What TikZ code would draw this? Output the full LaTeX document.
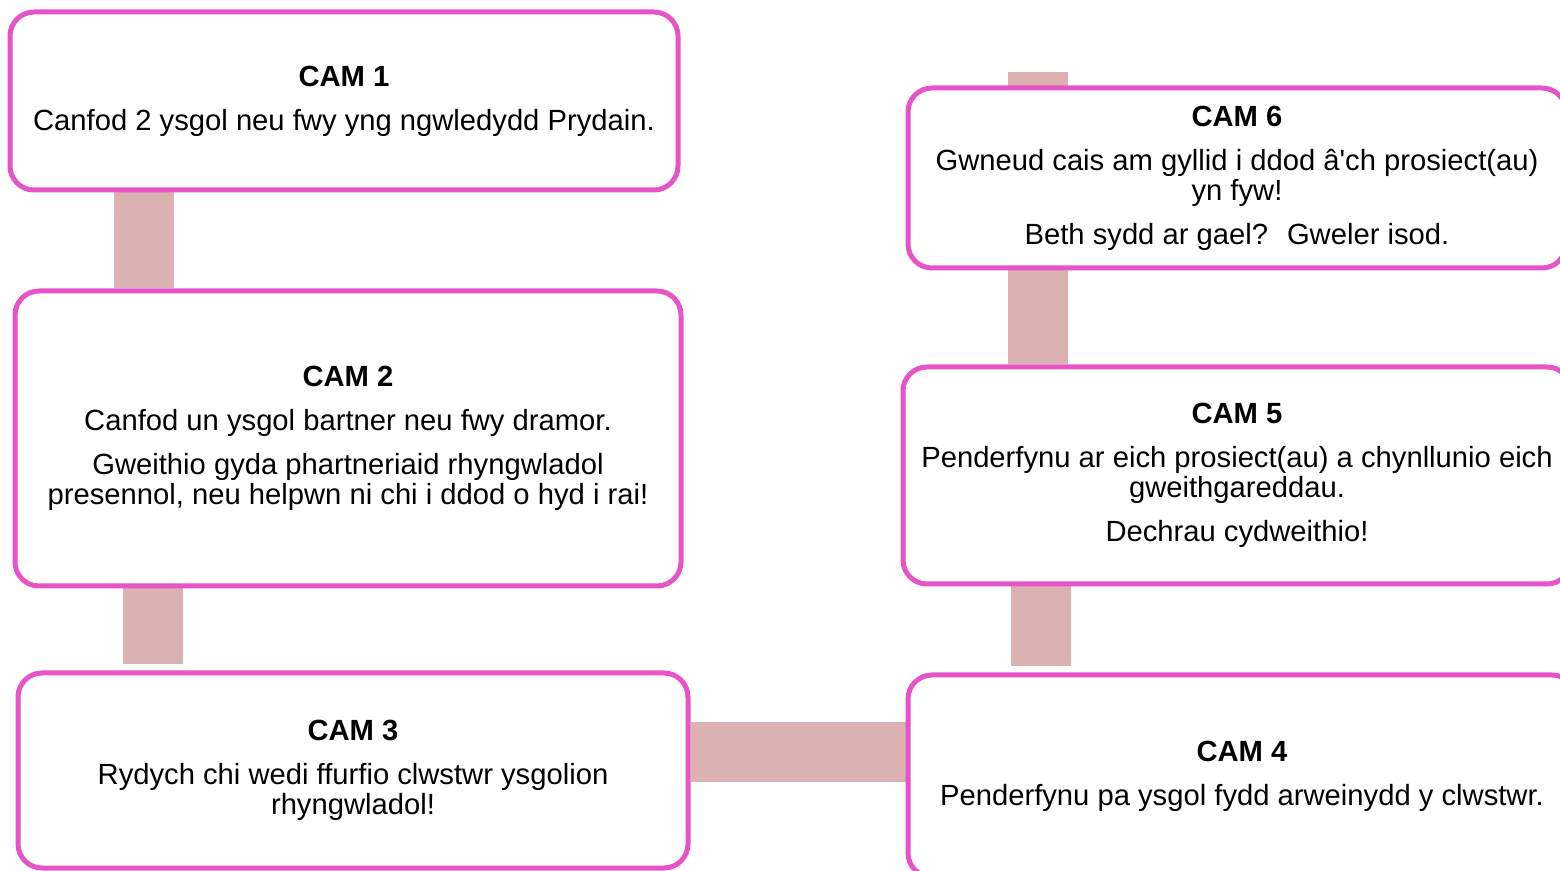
\documentclass[tikz,border=0pt]{standalone}
\usepackage{fontspec}
\setmainfont{Liberation Sans}
\usepackage{tikz}
\usetikzlibrary{backgrounds}
\definecolor{campink}{RGB}{230,84,200}
\definecolor{barpink}{RGB}{219,177,177}

\begin{document}
\begin{tikzpicture}[x=0.5pt,y=-0.5pt,
  cam/.style={draw=campink,line width=2.5pt,fill=white,rounded corners=12pt,
    align=center,inner sep=0pt,font=\fontsize{14.6}{15}\selectfont},
  bar/.style={draw=barpink,line width=30pt}]
\useasboundingbox (0,0) rectangle (1560,871);
\clip (0,0) rectangle (1560,871);
% steps
\node[cam,minimum width=334pt,minimum height=89pt] (cam1) at (344,101)
  {\textbf{CAM 1}\\[7pt]Canfod 2 ysgol neu fwy yng ngwledydd Prydain.};
\node[cam,minimum width=333pt,minimum height=147.5pt] (cam2) at (348,438.5)
  {\textbf{CAM 2}\\[7pt]Canfod un ysgol bartner neu fwy dramor.\\[7pt]
   Gweithio gyda phartneriaid rhyngwladol\\
   presennol, neu helpwn ni chi i ddod o hyd i rai!};
\node[cam,minimum width=335pt,minimum height=97.5pt] (cam3) at (353,770.5)
  {\textbf{CAM 3}\\[7pt]Rydych chi wedi ffurfio clwstwr ysgolion\\ rhyngwladol!};
\node[cam,minimum width=334pt,minimum height=101pt] (cam4) at (1242,776)
  {\textbf{CAM 4}\\[7pt]Penderfynu pa ysgol fydd arweinydd y clwstwr.};
\node[cam,minimum width=334pt,minimum height=108.5pt] (cam5) at (1237,475.5)
  {\textbf{CAM 5}\\[7pt]Penderfynu ar eich prosiect(au) a chynllunio eich\\
   gweithgareddau.\\[7pt]Dechrau cydweithio!};
\node[cam,minimum width=329pt,minimum height=90pt] (cam6) at (1237,178)
  {\textbf{CAM 6}\\[7pt]Gwneud cais am gyllid i ddod â\textquotesingle ch prosiect(au)\\
   yn fyw!\\[7pt]Beth sydd ar gael?~ Gweler isod.};
\coordinate (top) at (1037.5,72);
% links
\begin{pgfonlayer}{background}
\draw[bar] (144,0 |- cam1.south) -- (144,0 |- cam2.north);
\draw[bar,shorten >=3pt] (153,0 |- cam2.south) -- (153,0 |- cam3.north);
\draw[bar] (cam3.east |- 0,752.5) -- (cam4.west |- 0,752.5);
\draw[bar,shorten >=3pt] (1041,0 |- cam5.south) -- (1041,0 |- cam4.north);
\draw[bar] (top |- cam5.north) -- (top);
\end{pgfonlayer}
\end{tikzpicture}
\end{document}
